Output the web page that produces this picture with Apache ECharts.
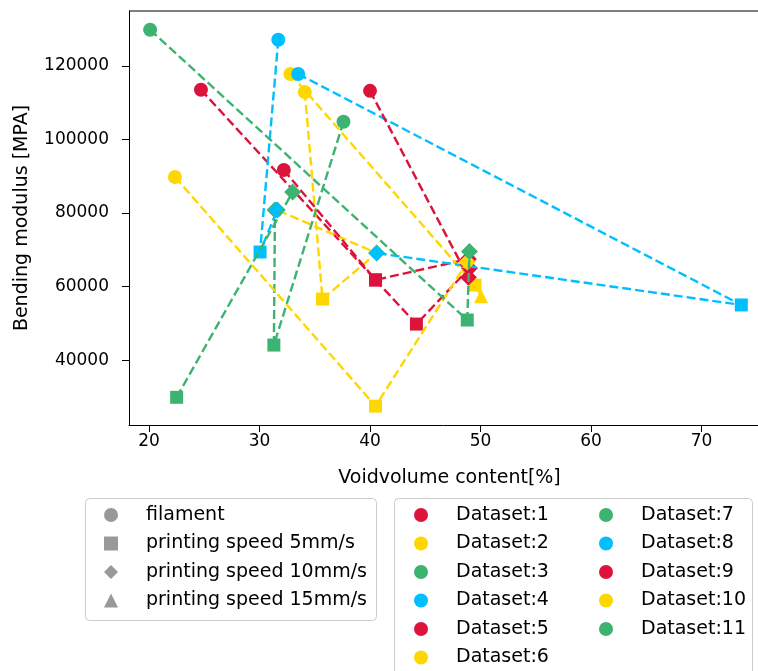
<!DOCTYPE html>
<html>
<head>
<meta charset="utf-8">
<script src="https://cdn.jsdelivr.net/npm/echarts@6/dist/echarts.min.js"></script>
<style>
html,body{margin:0;padding:0;background:#fff;}
#chart{width:758px;height:671px;}
</style>
</head>
<body>
<div id="chart"></div>
<script>
// dataset names + colours (matplotlib named colours)
var datasetNames = ['Dataset:1','Dataset:2','Dataset:3','Dataset:4','Dataset:5','Dataset:6',
                    'Dataset:7','Dataset:8','Dataset:9','Dataset:10','Dataset:11'];
var datasetColors = ['#DC143C','#FFD700','#3CB371','#00BFFF','#DC143C','#FFD700',
                     '#3CB371','#00BFFF','#DC143C','#FFD700','#3CB371'];
var markerNames = ['filament','printing speed 5mm/s','printing speed 10mm/s','printing speed 15mm/s'];

// void volume content [%] per dataset
var voidContent = [
    [24.7, 40.5, 48.9],
    [34.1, 35.7, 40.6, 31.6],
    [37.6, 31.3, 31.4],
    [31.7, 30.05, 31.6],
    [32.2, 40.5, 44.2, 49.0],
    [32.8, 49.5, 50.05],
    [22.5, 33.0],
    [33.5, 73.6, 40.6],
    [40.0, 48.9],
    [22.35, 40.5, 48.8],
    [20.1, 48.8, 49.0]
];
// bending modulus [MPA] per dataset
var modulus = [
    [113500, 61800, 67500],
    [112900, 56600, 69100, 80800],
    [104800, 44100, 80800],
    [127100, 69400, 80800],
    [91700, 61800, 49800, 65000],
    [117800, 60400, 57400],
    [29900, 85700],
    [117800, 55000, 69100],
    [113200, 62500],
    [89800, 27500, 66700],
    [129800, 50900, 69500]
];
// marker kind: 0 filament, 1 = 5mm/s, 2 = 10mm/s, 3 = 15mm/s
var kinds = [
    [0, 1, 2],
    [0, 1, 2, 2],
    [0, 1, 2],
    [0, 1, 2],
    [0, 1, 1, 2],
    [0, 1, 3],
    [1, 2],
    [0, 1, 2],
    [0, 2],
    [0, 1, 2],
    [0, 1, 2]
];

var kindSymbol = ['circle', 'rect', 'diamond', 'triangle'];
var kindSize = [14, 13, 17, 14];

var chart = echarts.init(document.getElementById('chart'));

var series = [];
for (let i = 0; i < datasetNames.length; i++) {
    let pts = [];
    for (let j = 0; j < voidContent[i].length; j++) {
        pts.push({
            value: [voidContent[i][j], modulus[i][j]],
            symbol: kindSymbol[kinds[i][j]],
            symbolSize: kindSize[kinds[i][j]]
        });
    }
    series.push({
        name: datasetNames[i],
        type: 'line',
        data: pts,
        color: datasetColors[i],
        showSymbol: true,
        lineStyle: {type: [9, 4], width: 2.4, color: datasetColors[i]},
        itemStyle: {color: datasetColors[i]},
        z: 2 + i
    });
}
// empty series only for the marker legend
for (let k = 0; k < markerNames.length; k++) {
    series.push({name: markerNames[k], type: 'scatter', data: [], itemStyle: {color: '#808080'}});
}

var legendText = {fontFamily: 'DejaVu Sans', fontSize: 19, color: '#000', lineHeight: 20, padding: [0, 0, 0, 23]};
function legendData(names, icons) {
    return names.map(function (n, i) { return {name: n, icon: icons[i]}; });
}
function plainNumber(v) { return String(v); }

var option = {
    animation: false,
    backgroundColor: '#fff',
    textStyle: {fontFamily: 'DejaVu Sans'},
    grid: {left: 129, top: 11, right: 0, height: 414, containLabel: false},
    xAxis: {
        type: 'value',
        min: 18.19,
        max: 75.11,
        name: 'Voidvolume content[%]',
        nameLocation: 'middle',
        nameGap: 44,
        nameTextStyle: {fontSize: 19, color: '#000', padding: [0, 0, 0, 12]},
        axisLine: {show: true, lineStyle: {color: '#000', width: 1}},
        axisTick: {show: true, length: 7, lineStyle: {color: '#000'}},
        axisLabel: {fontSize: 17, color: '#000', margin: 8, showMinLabel: false, showMaxLabel: false, formatter: plainNumber},
        splitLine: {show: false}
    },
    yAxis: {
        type: 'value',
        min: 22367,
        max: 134912,
        name: 'Bending modulus [MPA]',
        nameLocation: 'middle',
        nameGap: 97,
        nameTextStyle: {fontSize: 19, color: '#000'},
        axisLine: {show: true, lineStyle: {color: '#000', width: 1}},
        axisTick: {show: true, length: 7, lineStyle: {color: '#000'}},
        axisLabel: {fontSize: 17, color: '#000', margin: 20, showMinLabel: false, showMaxLabel: false, formatter: plainNumber},
        splitLine: {show: false}
    },
    legend: [
        {
            orient: 'vertical', left: 104, top: 505, padding: 0,
            itemWidth: 14, itemHeight: 14, itemGap: 8.5,
            textStyle: legendText,
            data: legendData(markerNames, ['circle', 'rect', 'diamond', 'triangle'])
        },
        {
            orient: 'vertical', left: 414, top: 505, padding: 0,
            itemWidth: 14, itemHeight: 14, itemGap: 8.5,
            textStyle: legendText,
            data: legendData(datasetNames.slice(0, 6), ['circle','circle','circle','circle','circle','circle'])
        },
        {
            orient: 'vertical', left: 599, top: 505, padding: 0,
            itemWidth: 14, itemHeight: 14, itemGap: 8.5,
            textStyle: legendText,
            data: legendData(datasetNames.slice(6), ['circle','circle','circle','circle','circle'])
        }
    ],
    graphic: [
        // top frame of the axes box
        {type: 'line', shape: {x1: 129, y1: 11, x2: 770, y2: 11}, style: {stroke: '#000', lineWidth: 1}, z: 100},
        // legend frames
        {type: 'rect', shape: {x: 85.5, y: 498.5, width: 291, height: 122, r: 4}, style: {fill: '#fff', stroke: '#cccccc', lineWidth: 1}, z: -10},
        {type: 'rect', shape: {x: 394.5, y: 498.5, width: 358, height: 190, r: 4}, style: {fill: '#fff', stroke: '#cccccc', lineWidth: 1}, z: -10}
    ],
    series: series
};
chart.setOption(option);
</script>
</body>
</html>
